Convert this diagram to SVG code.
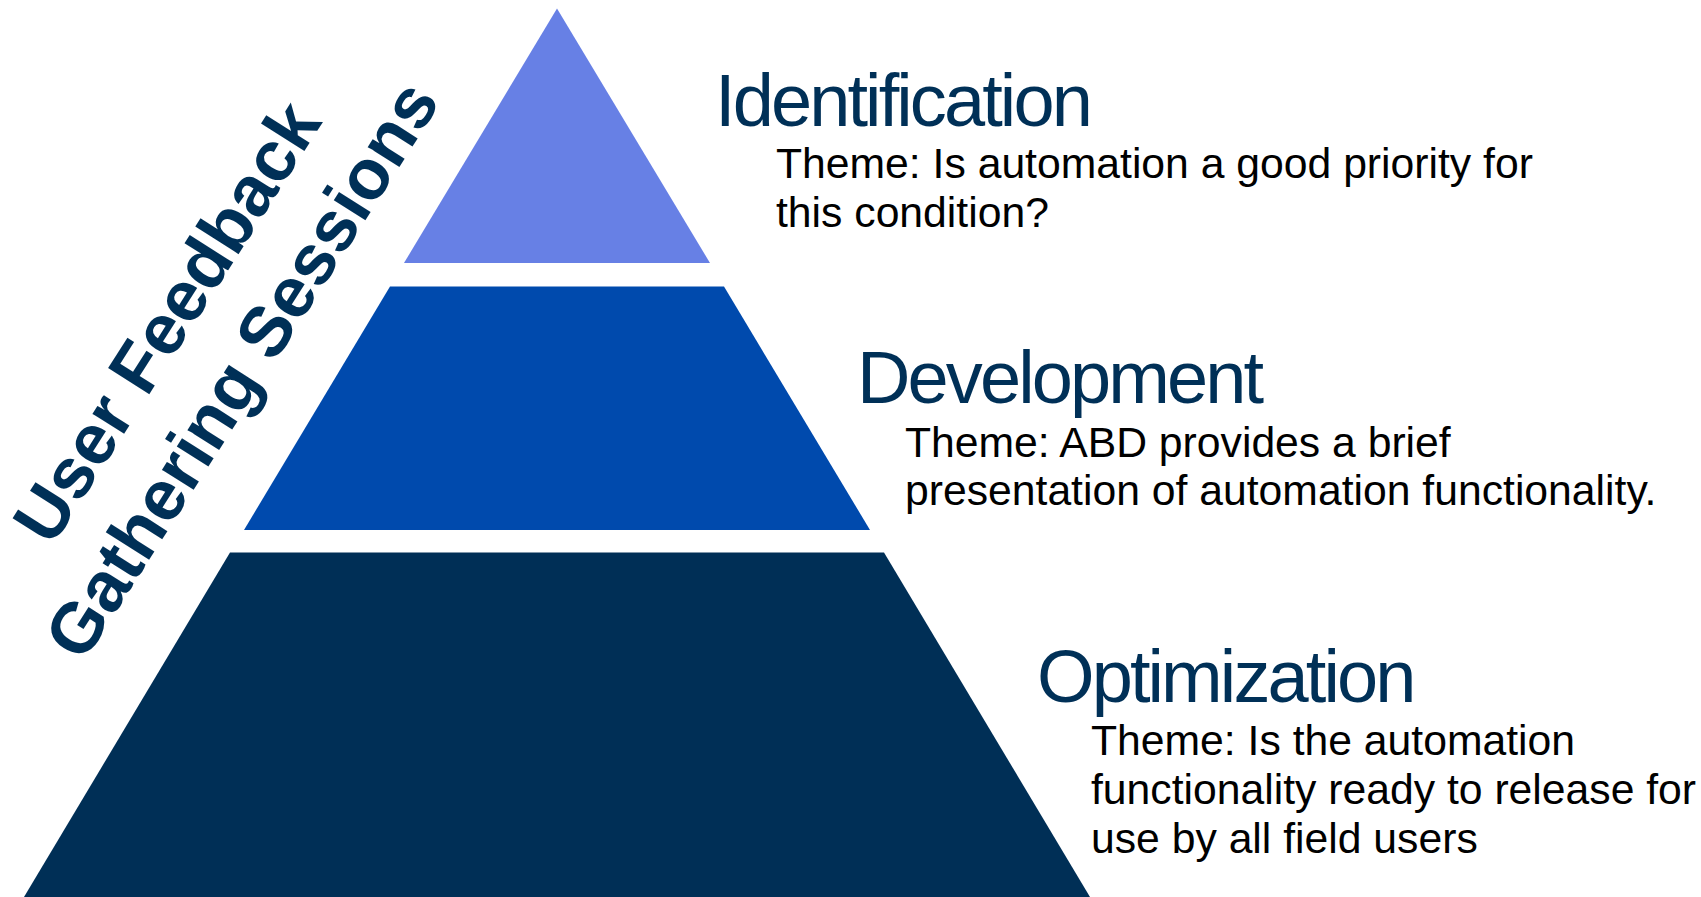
<svg xmlns="http://www.w3.org/2000/svg" width="1701" height="897" viewBox="0 0 1701 897">
<style>
.title{font-family:"Liberation Sans",Arial,sans-serif;font-size:74px;fill:#003057;letter-spacing:-2.9px}
.body{font-family:"Liberation Sans",Arial,sans-serif;font-size:42.7px;fill:#000000}
.side{font-family:"Liberation Sans",Arial,sans-serif;font-size:71px;font-weight:bold;fill:#003057}
</style>
<rect width="1701" height="897" fill="#ffffff"/>
<g id="tier-identification">
<polygon points="557,8.5 404,263 710,263" fill="#6780E5"/>
<text class="title" x="715" y="126">Identification</text>
<text class="body" x="776" y="178">Theme: Is automation a good priority for</text>
<text class="body" x="776" y="226.5">this condition?</text>
</g>
<g id="tier-development">
<polygon points="390,286.5 724,286.5 870,530 244,530" fill="#004AAD"/>
<text class="title" x="857" y="402.5">Development</text>
<text class="body" x="905" y="456.5">Theme: ABD provides a brief</text>
<text class="body" x="905" y="505">presentation of automation functionality.</text>
</g>
<g id="tier-optimization">
<polygon points="230,552.5 884,552.5 1090,897 24,897" fill="#002F56"/>
<text class="title" x="1037" y="701.5">Optimization</text>
<text class="body" x="1091" y="755">Theme: Is the automation</text>
<text class="body" x="1091" y="804">functionality ready to release for</text>
<text class="body" x="1091" y="853">use by all field users</text>
</g>
<g id="side-label" transform="translate(203,345) rotate(-57.5)">
<text class="side" x="0" y="-18.8" text-anchor="middle">User Feedback</text>
<text class="side" x="0" y="70" text-anchor="middle">Gathering Sessions</text>
</g>
<g id="connectors"></g>
</svg>
